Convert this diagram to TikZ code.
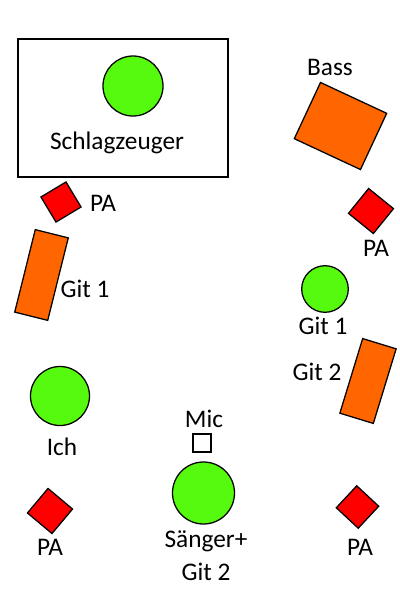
\documentclass[tikz,border=0pt]{standalone}
\usepackage{fontspec}
\setmainfont{Carlito}
\definecolor{spieler}{RGB}{85,250,15}
\definecolor{amp}{RGB}{255,102,0}
\definecolor{box}{RGB}{255,0,0}
\begin{document}
\begin{tikzpicture}[x=0.025cm, y=-0.025cm,
  person/.style={circle, draw, line width=0.9pt, fill=spieler, inner sep=0pt},
  verst/.style={rectangle, draw, line width=0.9pt, fill=amp, inner sep=0pt},
  pa/.style={rectangle, draw, line width=0.9pt, fill=box, inner sep=0pt},
  lbl/.style={font=\fontsize{18}{23.4}\selectfont, inner sep=0pt, align=center}]
\useasboundingbox (0,0) rectangle (400,595);

% Schlagzeug
\draw[line width=1.3pt] (18,39) rectangle (228,177);
\node[person, minimum size=1.5cm] (drums) at (133,86) {};
\node[lbl] (drumslbl) at (117,143) {Schlagzeuger};

% rechts oben
\node[verst, minimum width=1.825cm, minimum height=1.55cm, rotate=-25] (bass) at (340.5,126) {};
\node[lbl] (basslbl) at (330,67) {Bass};
\node[pa, minimum size=0.8cm, rotate=-39] (pa1) at (371,211) {};
\node[lbl] (pa1lbl) at (376,248) {PA};

% links oben
\node[pa, minimum size=0.73cm, rotate=31] (pa2) at (61,202) {};
\node[lbl] (pa2lbl) at (103,203) {PA};
\node[verst, minimum width=0.85cm, minimum height=2.125cm, rotate=-14] (git1amp) at (41.5,275) {};
\node[lbl] (git1amplbl) at (85,289) {Git 1};

% rechts Mitte
\node[person, minimum size=1.165cm] (git1) at (325,289) {};
\node[lbl] (git1lbl) at (323,326) {Git 1};
\node[verst, minimum width=0.875cm, minimum height=1.95cm, rotate=-17] (git2amp) at (368,381) {};
\node[lbl] (git2amplbl) at (317,372) {Git 2};

% vorne
\node[person, minimum size=1.475cm] (ich) at (60,396) {};
\node[lbl] (ichlbl) at (62,447) {Ich};
\node[rectangle, draw, line width=0.9pt, minimum size=0.45cm, inner sep=0pt] (mic) at (202,443) {};
\node[lbl] (miclbl) at (204,419) {Mic};
\node[person, minimum size=1.55cm] (saenger) at (203.5,493) {};
\node[lbl] (saengerlbl) at (206,556) {Sänger+\\Git 2};
\node[pa, minimum size=0.8cm, rotate=-40] (pa3) at (50,511) {};
\node[lbl] (pa3lbl) at (50,547) {PA};
\node[pa, minimum size=0.75cm, rotate=-43] (pa4) at (357.5,507) {};
\node[lbl] (pa4lbl) at (360,547) {PA};
\end{tikzpicture}
\end{document}
